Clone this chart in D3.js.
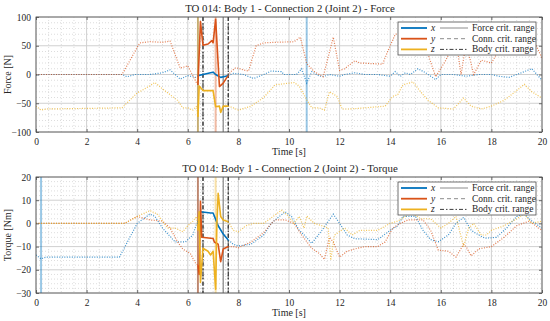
<!DOCTYPE html>
<html lang="en">
<head>
    <meta charset="UTF-8">
    <title>TO 014 Body 1 Connection 2</title>
    <script src="https://cdn.jsdelivr.net/npm/d3@7"></script>
    <style>
        body { margin: 0; background: #fff; }
        text { font-family: "Liberation Serif", "DejaVu Serif", serif; fill: #262626; }
    </style>
</head>
<body>
<script type="text/javascript">
    var width = 550;
    var height = 321;

    // ---- data ----
    var timeTicks = d3.range(0, 21, 2);
    var forceTicks = [-100, -50, 0, 50, 100];
    var torqueTicks = [-30, -20, -10, 0, 10, 20];
    var seriesNames = ["x", "y", "z"];
    var critNames = ["Force crit. range", "Conn. crit. range", "Body crit. range"];

    var forceCrit = [6.4, 7.4];
    var connCrit = [6.6, 7.6];
    var bodyCrit = [6.6, 7.6];
    var solidRange = [6.4, 7.6];

    // peak time of each series (x, y, z)
    var forcePeaks = [10.7, 7.1, 6.4];
    var torquePeaks = [0.2, 6.4, 7.1];

    var forceX = [[0, -1], [0.2, 0], [3.4, 0], [3.6, -4], [3.9, 0], [4.5, 0], [5.0, 3], [5.3, 8], [5.7, -8], [6.0, -2], [6.3, -5],
        [6.4, -2], [6.6, 0], [6.9, 3], [7.0, 4], [7.1, 0], [7.3, -5], [7.5, -3], [7.6, -2],
        [7.8, 2], [8.2, 0], [8.6, -7], [9.0, 0], [9.3, 6], [9.7, 5], [9.8, 0], [10.3, 0], [10.5, 10], [10.7, -15], [10.9, 5],
        [11.2, -3], [11.4, -3], [11.6, 0], [12.0, -3], [12.2, 0], [12.6, 3], [13.0, 0], [13.5, 0], [14.0, -3], [14.2, 5],
        [14.4, -3], [14.6, 3], [14.8, 0], [15.1, 10], [15.4, 3], [15.8, -9], [16.0, 0], [16.5, 0], [17.0, -3], [17.5, 0],
        [18.0, 0], [18.3, -3], [18.7, -5], [19.0, 0], [19.6, 10], [20, -10]];
    var forceY = [[0, 0], [3.4, 0], [4.1, 55], [4.5, 57], [5.0, 56], [5.3, 58], [5.7, 11], [6.0, 15], [6.35, -15],
        [6.4, -18], [6.5, 92], [6.6, 51], [6.8, 53], [6.95, 59], [7.0, 55], [7.1, 96], [7.25, -21], [7.4, -15], [7.5, -8], [7.6, -2],
        [7.7, 5], [7.9, 12], [8.2, 8], [8.4, 6], [8.7, 50], [9.0, 55], [9.45, 56], [10.2, 57], [10.45, 65], [10.7, 19],
        [11.0, 5], [11.35, -4], [11.75, 65], [12.0, 7], [12.2, 10], [12.6, 24], [12.8, 20], [13.7, 18], [13.9, 40],
        [14.2, 70], [14.8, 75], [15.3, 60], [15.8, -4], [16.2, 25], [16.6, 60], [16.8, 0], [17.0, 55], [17.3, 0],
        [17.6, 25], [18.0, 20], [18.4, 50], [18.9, 75], [19.6, 66], [20, 29]];
    var forceZ = [[0, -55], [0.2, -62], [0.4, -60], [3.4, -58], [4.0, -32], [4.3, -25], [4.7, -14], [5.0, -25], [5.3, -35],
        [5.5, -42], [5.6, -45], [5.8, -58], [6.0, -58], [6.2, -62], [6.35, -55],
        [6.4, -74], [6.45, -20], [6.6, -28], [7.0, -28], [7.1, -56], [7.25, -55], [7.3, -66], [7.4, -55], [7.6, -55],
        [7.8, -58], [8.0, -62], [8.5, -55], [9.0, -40], [9.45, -18], [10.2, -14], [10.4, -20], [10.7, -44], [10.9, -58],
        [11.2, -58], [11.4, -62], [11.6, -30], [11.9, -38], [12.1, -60], [12.4, -60], [13.0, -58], [13.8, -55], [14.1, -38],
        [14.3, -35], [14.5, -18], [14.9, -13], [15.2, -30], [15.5, -45], [15.9, -58], [16.5, -60], [16.9, -41], [17.2, -55],
        [17.6, -60], [18.0, -55], [18.5, -45], [19.0, -28], [19.3, -17], [19.6, -30], [20, -41]];

    var torqueX = [[0, -13.6], [0.2, -15.3], [0.4, -14.5], [3.3, -14.5], [4.0, 0], [4.5, 4], [4.7, 3], [5.0, -2], [5.5, -8],
        [5.9, -8], [6.2, -5], [6.35, 0],
        [6.4, 0], [6.5, 5], [6.9, 4.5], [7.0, 4.5], [7.2, -1], [7.4, -4.6], [7.6, -7.2],
        [7.8, -9], [8.0, -9.7], [8.5, -9], [9.0, -5], [9.3, 0], [9.45, 1.5], [9.85, 5], [10.1, 3], [10.4, -3], [10.6, -5],
        [10.9, -8.6], [11.3, -3], [11.75, 4], [12.0, 0], [12.3, -5], [12.6, -6.6], [13.5, -7], [14.0, -3], [14.3, -1],
        [14.5, 3], [15.0, 3], [15.3, -3], [15.6, -7], [15.9, -7.9], [16.3, -5], [16.6, 0], [16.9, 2.6], [17.2, -3],
        [17.5, -5], [17.75, -6.4], [18.2, -6], [18.6, -2], [19.0, 3], [19.3, 4], [19.6, 1], [20, -2]];
    var torqueY = [[0, 0], [3.5, 0], [4.0, 3], [4.5, 1.5], [5.0, 1], [5.3, -2], [5.6, -8], [5.8, -11], [6.1, -13], [6.3, -17],
        [6.4, -18], [6.45, -22], [6.5, 9.5], [6.55, -6], [7.0, -6.5], [7.05, -8], [7.2, -9], [7.3, -16.5], [7.4, -11], [7.6, -10],
        [7.8, -10], [8.0, -10.5], [8.5, -8], [9.0, -4], [9.3, 0], [9.45, 1.5], [9.85, 1.5], [10.2, 0], [10.5, -5],
        [10.9, -10.7], [11.2, -13], [11.4, -15.5], [11.6, -6], [11.75, -8], [12.0, -14.5], [12.3, -12], [12.6, -11],
        [13.0, -10], [13.5, -10], [13.8, -8], [14.1, -2], [14.4, 0], [14.7, 1.5], [15.3, 1.5], [15.6, -3], [15.9, -11.5],
        [16.3, -12], [16.6, -14.5], [16.9, -9], [17.0, -10], [17.2, -14], [17.5, -11], [18.0, -10], [18.5, -6], [19.0, -1],
        [19.5, 1], [20, -3]];
    var torqueZ = [[0, 0], [3.5, 0], [4.0, 3], [4.5, 5.5], [4.8, 4], [5.2, -2], [5.5, -2], [5.8, -3.6], [6.0, -1], [6.2, 1], [6.35, 3],
        [6.4, -3], [6.45, 5], [6.5, -25.5], [6.6, -10.7], [6.8, -12], [6.9, -13.6], [7.0, -12], [7.1, -28.4], [7.15, 0],
        [7.2, 13], [7.3, 3], [7.4, 1.5], [7.6, 0.7],
        [7.8, -3], [8.0, -3.6], [8.3, -1], [8.6, 0], [9.0, 0], [9.45, 3.6], [9.7, 5.7], [9.9, 4], [10.2, 0], [10.4, 3],
        [10.6, -2], [10.7, 3.2], [11.0, 0], [11.3, -1], [11.55, -2], [11.65, -15.8], [11.8, -5], [12.2, -2], [12.5, -5],
        [12.8, -3], [13.5, -3], [14.0, 0], [14.3, 1], [14.6, 3], [14.8, 5], [15.2, 2], [15.6, 2], [16.0, -2], [16.3, 0],
        [16.6, 3], [16.9, -10], [17.1, -2], [17.3, 0], [17.6, -5], [17.8, -5], [18.0, -3], [18.5, -1], [19.0, 2],
        [19.3, 4], [19.6, 0], [20, 1]];

    // ---- style ----
    var colors = ["#0072BD", "#D95319", "#EDB120"];
    var svg = d3.select('body').append('svg')
            .attr('width', width)
            .attr('height', height);

    function drawPanel(cfg) {
        var left = 36, right = 542;
        var xScale = d3.scaleLinear().domain([0, 20]).range([left, right]);
        var yScale = d3.scaleLinear().domain(cfg.yDomain).range([cfg.bottom, cfg.top]);
        var g = svg.append("g");
        var clipId = "clip" + cfg.id;

        g.append("clipPath").attr("id", clipId)
                .append("rect")
                .attr("x", left).attr("y", cfg.top)
                .attr("width", right - left).attr("height", cfg.bottom - cfg.top);

        // minor grid
        var xMinor = d3.range(0, 20.01, 0.5).filter(function (d) { return d % 2 !== 0; });
        var yMinor = d3.range(cfg.yDomain[0], cfg.yDomain[1] + 0.01, cfg.minorStep)
                .filter(function (d) { return cfg.ticks.indexOf(d) < 0; });
        g.selectAll(".vminor").data(xMinor).enter().append("line")
                .attr("x1", xScale).attr("x2", xScale)
                .attr("y1", cfg.top).attr("y2", cfg.bottom)
                .attr("stroke", "#c6c6c6").attr("stroke-width", 0.6).attr("stroke-dasharray", "1,2");
        g.selectAll(".hminor").data(yMinor).enter().append("line")
                .attr("x1", left).attr("x2", right)
                .attr("y1", yScale).attr("y2", yScale)
                .attr("stroke", "#c6c6c6").attr("stroke-width", 0.6).attr("stroke-dasharray", "1,2");
        // major grid
        g.selectAll(".vmajor").data(timeTicks).enter().append("line")
                .attr("x1", xScale).attr("x2", xScale)
                .attr("y1", cfg.top).attr("y2", cfg.bottom)
                .attr("stroke", "#d0d0d0").attr("stroke-width", 1);
        g.selectAll(".hmajor").data(cfg.ticks).enter().append("line")
                .attr("x1", left).attr("x2", right)
                .attr("y1", yScale).attr("y2", yScale)
                .attr("stroke", "#d0d0d0").attr("stroke-width", 1);

        // critical range lines
        var crit = [
            {t: forceCrit, dash: null, color: "#8c8c8c"},
            {t: connCrit, dash: "4,3", color: "#8c8c8c"},
            {t: bodyCrit, dash: "4,2,1.5,2", color: "#3c3c3c"}
        ];
        crit.forEach(function (c) {
            g.selectAll(null).data(c.t).enter().append("line")
                    .attr("x1", xScale).attr("x2", xScale)
                    .attr("y1", cfg.top).attr("y2", cfg.bottom)
                    .attr("stroke", c.color).attr("stroke-width", 1.3)
                    .attr("stroke-dasharray", c.dash);
        });

        // peak markers
        g.selectAll(".peak").data(cfg.peaks).enter().append("line")
                .attr("x1", function (d) { return xScale(d); })
                .attr("x2", function (d) { return xScale(d); })
                .attr("y1", cfg.top).attr("y2", cfg.bottom)
                .attr("stroke", function (d, i) { return colors[i]; })
                .attr("stroke-opacity", 0.4)
                .attr("stroke-width", 2);

        // series
        var line = d3.line()
                .x(function (d) { return xScale(d[0]); })
                .y(function (d) { return yScale(d[1]); });
        var plot = g.append("g").attr("clip-path", "url(#" + clipId + ")");
        cfg.series.forEach(function (s, i) {
            var before = s.filter(function (d) { return d[0] <= solidRange[0]; });
            var mid = s.filter(function (d) { return d[0] >= solidRange[0] && d[0] <= solidRange[1]; });
            var after = s.filter(function (d) { return d[0] >= solidRange[1]; });
            [before, after].forEach(function (part) {
                plot.append("path").datum(part)
                        .attr("d", line)
                        .attr("fill", "none")
                        .attr("stroke", colors[i])
                        .attr("stroke-opacity", 0.75)
                        .attr("stroke-width", 1.2)
                        .attr("stroke-dasharray", "1,1.5");
            });
            plot.append("path").datum(mid)
                    .attr("d", line)
                    .attr("fill", "none")
                    .attr("stroke", colors[i])
                    .attr("stroke-width", 1.6)
                    .attr("stroke-linejoin", "round");
        });

        // frame and axes
        g.append("rect")
                .attr("x", left).attr("y", cfg.top)
                .attr("width", right - left).attr("height", cfg.bottom - cfg.top)
                .attr("fill", "none").attr("stroke", "#4d4d4d").attr("stroke-width", 0.8);

        var xAxis = d3.axisBottom(xScale).tickValues(timeTicks).tickSizeInner(-3).tickSizeOuter(0).tickPadding(6);
        var yAxis = d3.axisLeft(yScale).tickValues(cfg.ticks).tickSizeInner(-3).tickSizeOuter(0).tickPadding(5);
        g.append("g").attr("transform", "translate(0," + cfg.bottom + ")").call(xAxis);
        g.append("g").attr("transform", "translate(" + left + ",0)").call(yAxis);
        g.append("g").attr("transform", "translate(0," + cfg.top + ")")
                .call(d3.axisTop(xScale).tickValues(timeTicks).tickSizeInner(-3).tickSizeOuter(0).tickFormat(""));
        g.append("g").attr("transform", "translate(" + right + ",0)")
                .call(d3.axisRight(yScale).tickValues(cfg.ticks).tickSizeInner(-3).tickSizeOuter(0).tickFormat(""));
        g.selectAll(".domain").remove();
        g.selectAll(".tick line").attr("stroke", "#4d4d4d").attr("stroke-width", 0.8);
        g.selectAll(".tick text").attr("font-family", "Liberation Serif, DejaVu Serif, serif")
                .attr("font-size", "9.5px").attr("fill", "#262626");

        // titles
        g.append("text")
                .attr("x", (left + right) / 2 + 1).attr("y", cfg.top - 5)
                .attr("text-anchor", "middle").attr("font-size", "10.8px")
                .text(cfg.title);
        g.append("text")
                .attr("x", (left + right) / 2).attr("y", cfg.bottom + 23)
                .attr("text-anchor", "middle").attr("font-size", "10px")
                .text("Time [s]");
        g.append("text")
                .attr("transform", "translate(11," + ((cfg.top + cfg.bottom) / 2) + ") rotate(-90)")
                .attr("text-anchor", "middle").attr("font-size", "10px")
                .text(cfg.yLabel);

        // legend
        var lx = 398, ly = cfg.top + 5, lw = 138, lh = 33;
        var lg = g.append("g");
        lg.append("rect").attr("x", lx).attr("y", ly).attr("width", lw).attr("height", lh)
                .attr("fill", "#fff").attr("stroke", "#4d4d4d").attr("stroke-width", 0.8);
        seriesNames.forEach(function (n, i) {
            var yy = ly + 6 + i * 10.7;
            lg.append("line").attr("x1", lx + 3).attr("x2", lx + 29).attr("y1", yy).attr("y2", yy)
                    .attr("stroke", colors[i]).attr("stroke-width", 1.8);
            lg.append("text").attr("x", lx + 33).attr("y", yy + 3)
                    .attr("font-size", "9.5px").attr("font-style", "italic").text(n);
            lg.append("line").attr("x1", lx + 42).attr("x2", lx + 70).attr("y1", yy).attr("y2", yy)
                    .attr("stroke", crit[i].color).attr("stroke-width", 1)
                    .attr("stroke-dasharray", crit[i].dash);
            lg.append("text").attr("x", lx + 74).attr("y", yy + 3)
                    .attr("font-size", "9.5px").text(critNames[i]);
        });
    }

    drawPanel({
        id: 1, top: 17, bottom: 132, yDomain: [-100, 100], ticks: forceTicks, minorStep: 10,
        title: "TO 014: Body 1 - Connection 2 (Joint 2) - Force", yLabel: "Force [N]",
        series: [forceX, forceY, forceZ], peaks: forcePeaks
    });
    drawPanel({
        id: 2, top: 177, bottom: 293, yDomain: [-30, 20], ticks: torqueTicks, minorStep: 2,
        title: "TO 014: Body 1 - Connection 2 (Joint 2) - Torque", yLabel: "Torque [Nm]",
        series: [torqueX, torqueY, torqueZ], peaks: torquePeaks
    });
</script>
</body>
</html>
